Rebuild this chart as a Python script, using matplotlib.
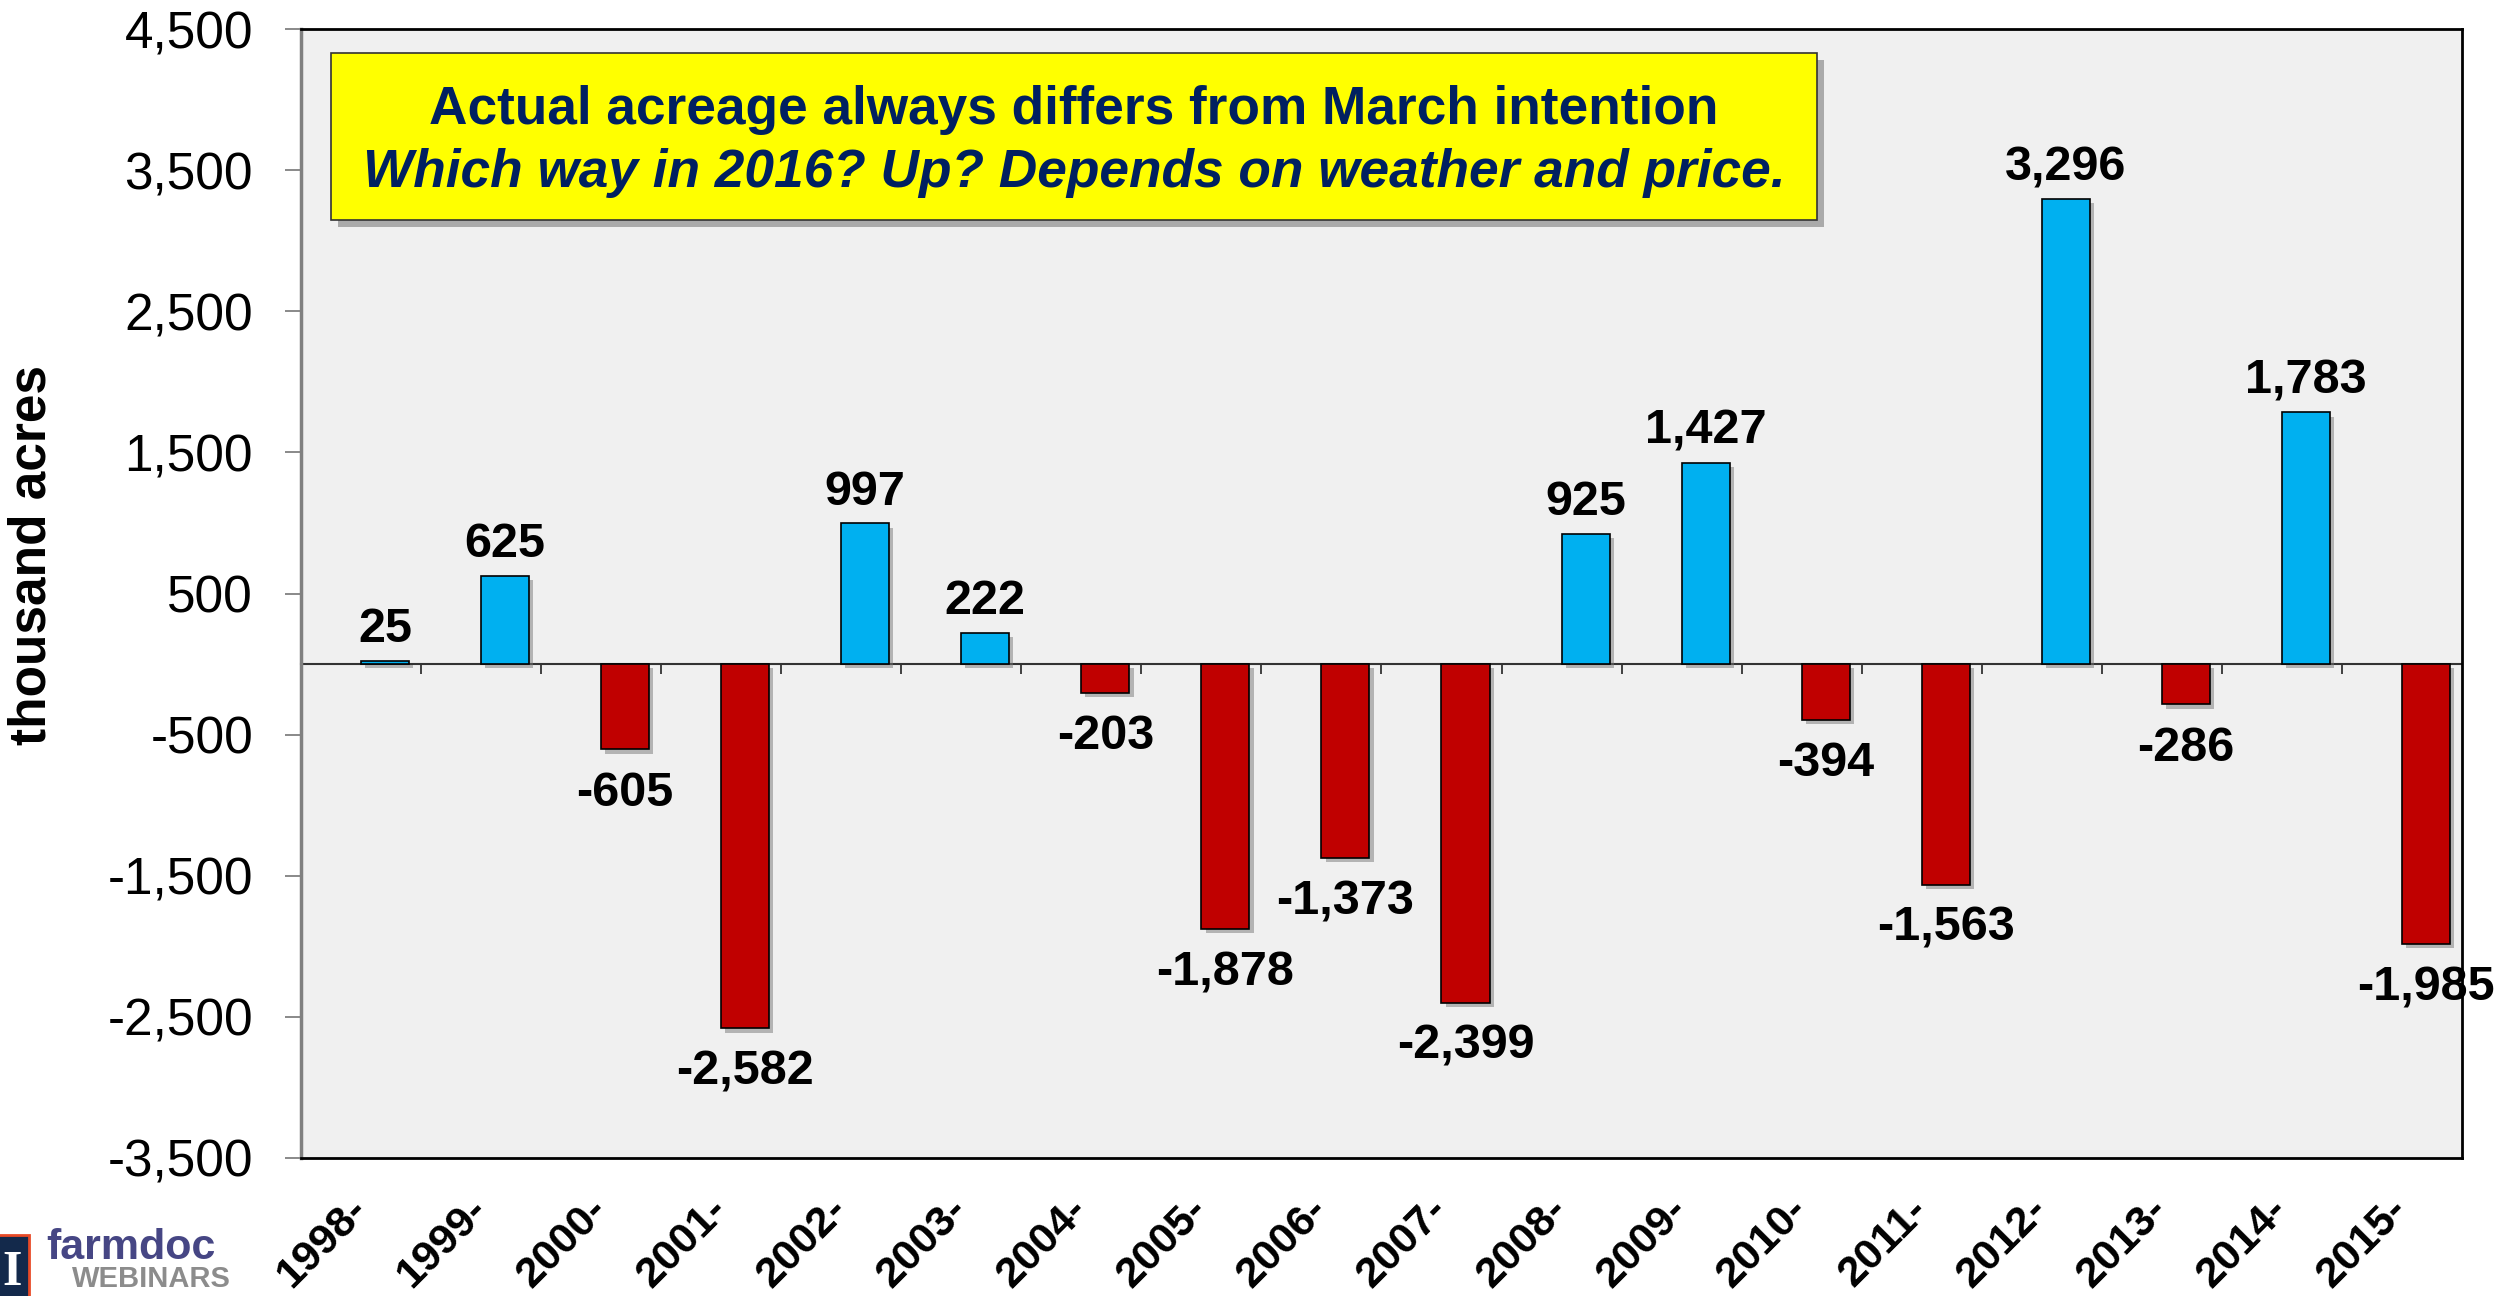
import matplotlib
matplotlib.use('Agg')
import matplotlib.pyplot as plt
from matplotlib.patches import Rectangle
from matplotlib import patheffects as pe
from matplotlib.ticker import FuncFormatter

plt.rcParams['font.family'] = ['Liberation Sans', 'DejaVu Sans']

# data: actual minus March intention, thousand acres
years = ['1998-', '1999-', '2000-', '2001-', '2002-', '2003-', '2004-', '2005-', '2006-',
         '2007-', '2008-', '2009-', '2010-', '2011-', '2012-', '2013-', '2014-', '2015-']
diffs = [25, 625, -605, -2582, 997, 222, -203, -1878, -1373,
         -2399, 925, 1427, -394, -1563, 3296, -286, 1783, -1985]
y_ticks = [-3500, -2500, -1500, -500, 500, 1500, 2500, 3500, 4500]
title1 = 'Actual acreage always differs from March intention'
title2 = 'Which way in 2016? Up? Depends on weather and price.'

BLUE = '#00B0F0'
RED = '#C00000'
NAVY = '#002060'

fig = plt.figure(figsize=(25.04, 12.96), dpi=100)
ax = fig.add_axes([0.1202, 0.1065, 0.8630, 0.8711])
ax.set_facecolor('#F0F0F0')

x = list(range(len(years)))
# bars sit in the right half of each category slot (like a clustered chart)
bx = [i + 0.2 for i in x]
colors = [BLUE if v >= 0 else RED for v in diffs]
bars = ax.bar(bx, diffs, width=0.4, color=colors, edgecolor='black', linewidth=1.2, zorder=3)
for b in bars:
    b.set_path_effects([pe.SimplePatchShadow(offset=(3, -3), shadow_rgbFace='#777777', alpha=0.5),
                        pe.Normal()])

# value labels
for xi, v in zip(bx, diffs):
    off = 22.5 if v >= 0 else -31.5
    ax.annotate(f'{v:,}', (xi, v), xytext=(0, off), textcoords='offset points',
                ha='center', va='center', fontsize=35, fontweight='bold',
                annotation_clip=False, clip_on=False, zorder=5)

ax.set_xlim(-0.5, len(years) - 0.5)
ax.set_ylim(-3500, 4500)
ax.set_yticks(y_ticks)
ax.yaxis.set_major_formatter(FuncFormatter(lambda v, p: f'{int(v):,}'))
ax.tick_params(axis='y', labelsize=37, length=11.5, width=1.3, color='#808080', pad=23)

ax.set_xticks(x)
ax.set_xticklabels(years, rotation=45, ha='right', va='center', rotation_mode='anchor',
                   fontsize=31, fontweight='bold')
ax.tick_params(axis='x', length=0, pad=33)

for s in ['top', 'right', 'bottom']:
    ax.spines[s].set_color('black')
    ax.spines[s].set_linewidth(2)
ax.spines['left'].set_color('#808080')
ax.spines['left'].set_linewidth(2.5)

# zero line with category boundary ticks
zero_frac = (0 - (-3500)) / (4500 - (-3500))
sec = ax.secondary_xaxis(zero_frac)
sec.set_alignment('bottom')
sec.set_xticks([i + 0.5 for i in x[:-1]])
sec.set_xticklabels([])
sec.tick_params(axis='x', direction='out', length=7, width=1.3, color='#333333')
sec.spines['bottom'].set_color('#333333')
sec.spines['bottom'].set_linewidth(1.5)

ax.set_ylabel('thousand acres', fontsize=37, fontweight='bold')
ax.yaxis.set_label_coords(-0.113, 0.534)

# title box
box = Rectangle((0.0139, 0.8308), 0.6876, 0.1479, transform=ax.transAxes,
                facecolor='#FFFF00', edgecolor='#333333', linewidth=1.2, zorder=6)
box.set_path_effects([pe.SimplePatchShadow(offset=(5, -5), shadow_rgbFace='#666666', alpha=0.5),
                      pe.Normal()])
ax.add_patch(box)
ax.text(0.3577, 0.9282, title1, transform=ax.transAxes, ha='center', va='center',
        fontsize=38.3, fontweight='bold', color=NAVY, zorder=7)
ax.text(0.3577, 0.8724, title2, transform=ax.transAxes, ha='center', va='center',
        fontsize=38.3, fontweight='bold', fontstyle='italic', color=NAVY, zorder=7)

# farmdoc webinars logo
fig.patches.append(Rectangle((-0.002, -0.01), 0.0135, 0.057, transform=fig.transFigure,
                             facecolor='#13294B', edgecolor='#E84A27', linewidth=2))
fig.text(0.0048, 0.018, 'I', fontsize=36, fontweight='bold', color='white',
         ha='center', va='center', family='Liberation Serif')
fig.text(0.0185, 0.0215, 'farmdoc', fontsize=31, fontweight='bold', color='#464684',
         ha='left', va='bottom')
fig.text(0.0288, 0.002, 'WEBINARS', fontsize=21, fontweight='bold', color='#8C8C8C',
         ha='left', va='bottom')

fig.savefig('out.png', dpi=100)
